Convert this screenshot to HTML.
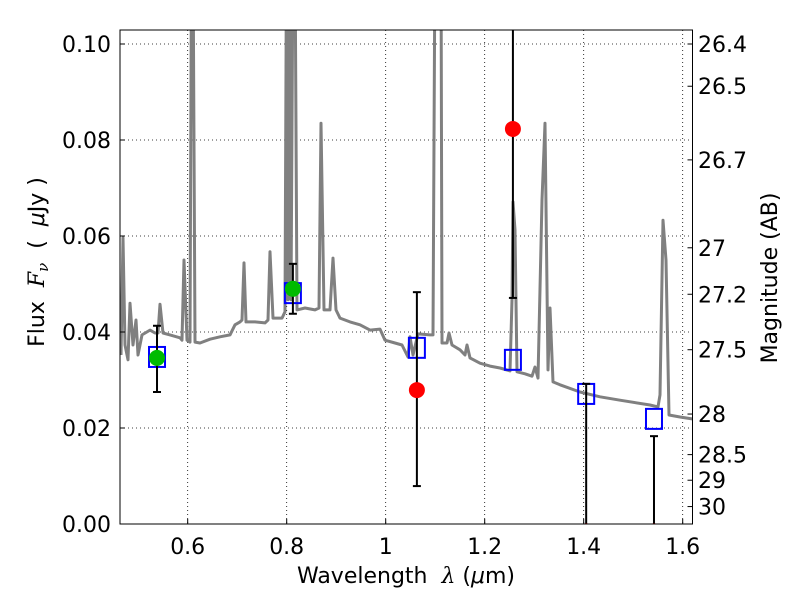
<!DOCTYPE html>
<html><head><meta charset="utf-8"><style>
body{margin:0;background:#fff}
svg{display:block;font-family:"DejaVu Sans","Liberation Sans",sans-serif}
</style></head><body>
<svg id="c" width="800" height="600">
<defs><clipPath id="pc"><rect x="120" y="30" width="572.5" height="494"/></clipPath></defs>
<g id="grid"></g>
<g id="plot" clip-path="url(#pc)"></g>
<rect x="120" y="30" width="572.5" height="494" fill="none" stroke="#000" stroke-width="1"/>
<g id="axes"></g>
<text x="406" y="583" font-size="22" text-anchor="middle" xml:space="preserve">Wavelength  <tspan font-family="DejaVu Serif,serif" font-style="italic">λ</tspan> (<tspan font-style="italic">μ</tspan>m)</text>
<text transform="translate(44,262) rotate(-90)" font-size="22" text-anchor="middle" xml:space="preserve">Flux  <tspan font-family="DejaVu Serif,serif" font-style="italic">F</tspan><tspan font-family="DejaVu Serif,serif" font-style="italic" font-size="15" dy="4">ν</tspan><tspan dy="-4">  (  </tspan><tspan font-style="italic">μ</tspan>Jy )</text>
<text transform="translate(777,278) rotate(-90)" font-size="22" text-anchor="middle">Magnitude (AB)</text>
</svg>
<script>
const specLam=[0.4653,0.4693,0.4733,0.4794,0.4834,0.4895,0.4956,0.4996,0.5077,0.5238,0.5339,0.540,0.5440,0.5501,0.5642,0.5844,0.5885,0.5925,0.5986,0.6046,0.6077,0.6107,0.6147,0.6248,0.6450,0.6653,0.6855,0.6956,0.7057,0.7097,0.7137,0.7178,0.7360,0.7562,0.7622,0.7663,0.7723,0.7905,0.7966,0.7996,0.8026,0.8057,0.8087,0.8127,0.8168,0.8208,0.8370,0.8572,0.8653,0.8693,0.8754,0.8875,0.8935,0.8996,0.9077,0.9279,0.9481,0.9683,0.9885,0.9986,1.0188,1.0329,1.0451,1.0491,1.0552,1.0653,1.0895,1.0956,1.0996,1.1117,1.1137,1.1238,1.1279,1.1339,1.1501,1.1602,1.1642,1.1703,1.1905,1.2107,1.2309,1.2511,1.2552,1.2572,1.2612,1.2653,1.2814,1.2956,1.3016,1.3077,1.3158,1.3218,1.3279,1.3319,1.3380,1.3521,1.3925,1.4329,1.4733,1.5339,1.5501,1.5541,1.5602,1.5663,1.5723,1.5945,1.6188,1.64];
const specFlux=[0.0352,0.0596,0.0373,0.0342,0.0460,0.0373,0.0425,0.0352,0.0394,0.0404,0.0398,0.0398,0.0458,0.0398,0.0394,0.0388,0.0383,0.055,0.0383,0.0379,0.12,0.12,0.0379,0.0377,0.0385,0.039,0.0394,0.0415,0.0421,0.0425,0.0544,0.0421,0.0421,0.0419,0.0425,0.0567,0.0429,0.0429,0.0442,0.12,0.0467,0.12,0.0467,0.12,0.12,0.0446,0.045,0.0446,0.045,0.0835,0.0446,0.0446,0.0554,0.0446,0.0429,0.0421,0.0415,0.0404,0.0406,0.0383,0.0377,0.0373,0.0348,0.039,0.0352,0.0396,0.0394,0.0394,0.12,0.12,0.0377,0.0377,0.0398,0.0373,0.0363,0.0352,0.0373,0.0346,0.0335,0.0329,0.0325,0.0319,0.0467,0.0671,0.0613,0.0317,0.0313,0.0308,0.0327,0.0304,0.0675,0.0835,0.0321,0.045,0.0296,0.029,0.0275,0.0265,0.0258,0.0248,0.0244,0.0269,0.0633,0.055,0.0227,0.0223,0.0219,0.0216];
const modelLam=[0.538,0.8125,1.063,1.257,1.405,1.542];
const modelFlux=[0.0348,0.0481,0.0367,0.0342,0.0271,0.0219];
const greenLam=[0.538,0.8125];
const greenFlux=[0.0346,0.049];
const greenLo=[0.0275,0.0438];
const greenHi=[0.0413,0.0542];
const redLam=[1.063,1.257,1.405,1.542];
const redFlux=[0.0279,0.0823,-0.0015,-0.0015];
const redLo=[0.0079,0.0471,-0.005,-0.005];
const redHi=[0.0483,0.118,0.0292,0.0183];
const xTicks=[0.6,0.8,1.0,1.2,1.4,1.6];
const xTickLabels=["0.6","0.8","1","1.2","1.4","1.6"];
const yTicks=[0,0.02,0.04,0.06,0.08,0.10];
const yTickLabels=["0.00","0.02","0.04","0.06","0.08","0.10"];
const magTicks=[26.4,26.5,26.7,27,27.2,27.5,28,28.5,29,30];
const magLabels=["26.4","26.5","26.7","27","27.2","27.5","28","28.5","29","30"];

const X=l=>187.7+(l-0.6)*495;
const Y=f=>524-f*4800;
const NS="http://www.w3.org/2000/svg";
function mk(parent,tag,attrs){const e=document.createElementNS(NS,tag);for(const k in attrs)e.setAttribute(k,attrs[k]);document.getElementById(parent).appendChild(e);return e;}

xTicks.forEach((t,i)=>{
  const g=mk('grid','line',{x1:X(t),x2:X(t),y1:30,y2:524,stroke:'#000','stroke-width':0.8,'stroke-dasharray':'1,3'});
  
  
  const tk=mk('axes','line',{x1:X(t),x2:X(t),y1:524,y2:519,stroke:'#000'});
  
  
  const tx=mk('axes','text',{x:X(t),y:554,'font-size':22,'text-anchor':'middle'});
  tx.textContent=xTickLabels[i];
  
  
});
yTicks.forEach((t,i)=>{
  const g=mk('grid','line',{x1:120,x2:692.5,y1:Y(t),y2:Y(t),stroke:'#000','stroke-width':0.8,'stroke-dasharray':'1,3'});
  
  
  const tk=mk('axes','line',{x1:120,x2:125,y1:Y(t),y2:Y(t),stroke:'#000'});
  
  
  const tx=mk('axes','text',{x:111,y:Y(t)+8,'font-size':22,'text-anchor':'end'});
  tx.textContent=yTickLabels[i];
  
  
});
magTicks.forEach((m,i)=>{
  const f=Math.pow(10,(23.9-m)/2.5);
  const tk=mk('axes','line',{x1:687.5,x2:692.5,y1:Y(f),y2:Y(f),stroke:'#000'});
  
  
  const tx=mk('axes','text',{x:698,y:Y(f)+8,'font-size':22});
  tx.textContent=magLabels[i];
  
  
});
const pts=specLam.map((l,i)=>X(l).toFixed(1)+','+Y(specFlux[i]).toFixed(1)).join(' ');
const sp=mk('plot','polyline',{points:pts,fill:'none',stroke:'#808080','stroke-width':3,'stroke-linejoin':'round'});


function errbar(l,lo,hi,name){
  const x=X(l);
  const v=mk('plot','line',{x1:x,x2:x,y1:Y(lo),y2:Y(hi),stroke:'#000','stroke-width':2});
  
  
  [lo,hi].forEach(e=>{const c=mk('plot','line',{x1:x-4,x2:x+4,y1:Y(e),y2:Y(e),stroke:'#000','stroke-width':2});
    
    });
}
modelLam.forEach((l,i)=>{
  const r=mk('plot','rect',{x:X(l)-8,y:Y(modelFlux[i])-10,width:16,height:20,fill:'none',stroke:'#0000ff','stroke-width':2});
  
  
});
greenLam.forEach((l,i)=>{
  errbar(l,greenLo[i],greenHi[i],'green-error-bar');
  const c=mk('plot','circle',{cx:X(l),cy:Y(greenFlux[i]),r:8,fill:'#00bb00'});
  
  
});
redLam.forEach((l,i)=>{
  errbar(l,redLo[i],redHi[i],'red-error-bar');
  const c=mk('plot','circle',{cx:X(l),cy:Y(redFlux[i]),r:8,fill:'#ff0000'});
  
  
});
</script>
</body></html>
